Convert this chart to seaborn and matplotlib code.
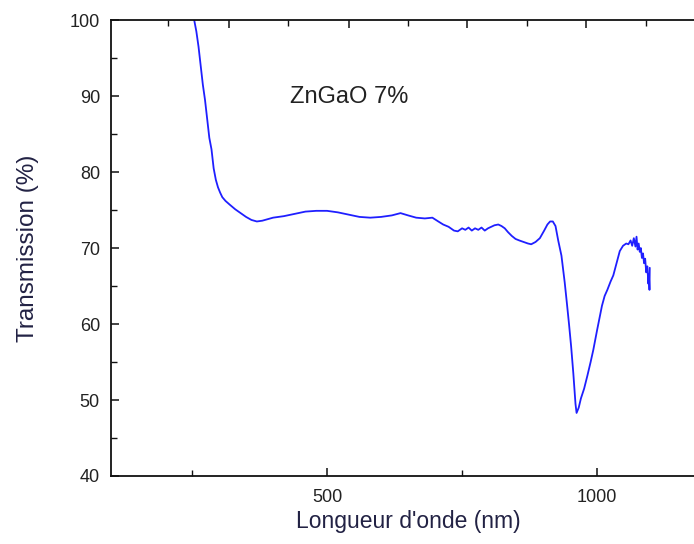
import numpy as np
import pandas as pd
import matplotlib
matplotlib.use("Agg")
import matplotlib.pyplot as plt
import seaborn as sns
from matplotlib.ticker import FixedLocator

wavelength = [254, 258, 262, 266, 270, 274, 278, 282, 286, 290, 294, 298, 302, 306, 312, 320, 330, 340,
              350, 360, 370, 380, 400, 420, 440, 460, 480, 500, 520, 540, 560, 580, 600, 620, 636, 650,
              665, 681, 695, 706, 715, 725, 735, 742, 750, 756, 762, 768, 774, 780, 786, 792, 798, 804,
              810, 817, 823, 829, 835, 842, 849, 856, 864, 872, 878, 886, 894, 902, 908, 913, 918, 923,
              928, 934, 940, 944, 948, 952, 956, 960, 962, 966, 970, 976, 982, 988, 993, 1000, 1009,
              1014, 1019, 1025, 1030, 1036, 1042, 1048, 1054, 1058, 1062, 1065, 1068, 1071, 1073, 1075,
              1077, 1079, 1081, 1083, 1085, 1087, 1089, 1091, 1093, 1095, 1096, 1097, 1097.5]
transmission = [100, 98.5, 96.5, 94, 91.5, 89.5, 87, 84.5, 83, 80.5, 79, 78, 77.3, 76.7, 76.2, 75.7, 75.1,
                74.6, 74.1, 73.7, 73.5, 73.6, 74.0, 74.2, 74.5, 74.8, 74.9, 74.9, 74.7, 74.4, 74.1, 74.0,
                74.1, 74.3, 74.6, 74.3, 74.0, 73.9, 74.0, 73.5, 73.1, 72.8, 72.3, 72.2, 72.6, 72.4, 72.7,
                72.3, 72.6, 72.4, 72.7, 72.3, 72.6, 72.8, 73.0, 73.1, 72.9, 72.6, 72.1, 71.6, 71.2, 71.0,
                70.8, 70.6, 70.5, 70.8, 71.3, 72.3, 73.1, 73.5, 73.5, 72.9, 71.0, 69.0, 65.5, 62.8, 60.0,
                57.0, 53.5, 49.5, 48.3, 49.0, 50.2, 51.5, 53.2, 55.0, 56.6, 59.2, 62.4, 63.7, 64.5, 65.6,
                66.4, 68.0, 69.6, 70.3, 70.6, 70.5, 71.0, 70.3, 71.3, 70.2, 71.5, 69.8, 70.6, 69.5, 70.0,
                68.7, 69.3, 68.0, 68.6, 66.8, 67.6, 65.3, 66.5, 64.5, 67.4]

x_major = [500, 1000]
x_minor = [250, 750]
y_major = [40, 50, 60, 70, 80, 90, 100]
y_minor = [45, 55, 65, 75, 85, 95]
top_major = [318, 540, 760, 980]
top_minor = [206, 428, 650, 870, 1090]

sns.set_theme(style="ticks")
plt.rcParams['font.family'] = ['Liberation Sans', 'DejaVu Sans']

df = pd.DataFrame({"wl": wavelength, "T": transmission})

fig = plt.figure(figsize=(6.94, 5.44), dpi=100)
ax = fig.add_axes([0.16, 0.125, 0.856, 0.838])
sns.lineplot(data=df, x="wl", y="T", ax=ax, color="#1f1fff", linewidth=1.3, sort=False)

ax.set_xlim(100, 1200)
ax.set_ylim(40, 100)
ax.xaxis.set_major_locator(FixedLocator(x_major))
ax.xaxis.set_minor_locator(FixedLocator(x_minor))
ax.yaxis.set_major_locator(FixedLocator(y_major))
ax.yaxis.set_minor_locator(FixedLocator(y_minor))
ax.set_xticklabels([str(v) for v in x_major])
ax.set_yticklabels([str(v) for v in y_major])

for s in ["left", "bottom", "top", "right"]:
    ax.spines[s].set_visible(True)
    ax.spines[s].set_color("#111111")
    ax.spines[s].set_linewidth(1.3)

ax.tick_params(axis="both", which="major", direction="in", length=6, width=1.1,
               color="#111111", labelsize=13, labelcolor="#222222")
ax.tick_params(axis="y", which="major", pad=8)
ax.tick_params(axis="x", which="major", pad=9)
ax.tick_params(axis="both", which="minor", direction="in", length=4, width=1.0, color="#111111")

top = ax.twiny()
top.set_xlim(ax.get_xlim())
top.xaxis.set_major_locator(FixedLocator(top_major))
top.xaxis.set_minor_locator(FixedLocator(top_minor))
top.tick_params(axis="x", which="major", direction="in", length=6, width=1.1, color="#111111", labeltop=False)
top.tick_params(axis="x", which="minor", direction="in", length=4, width=1.0, color="#111111")
for s in top.spines.values():
    s.set_visible(False)

ax.set_xlabel("Longueur d'onde (nm)", fontsize=16.5, color="#222244", labelpad=3)
ax.set_ylabel("Transmission (%)", fontsize=17.5, color="#222244", labelpad=22)
ax.text(431, 89.9, "ZnGaO 7%", fontsize=17, color="#222222", va="center", ha="left")

fig.savefig("out.png", dpi=100)
